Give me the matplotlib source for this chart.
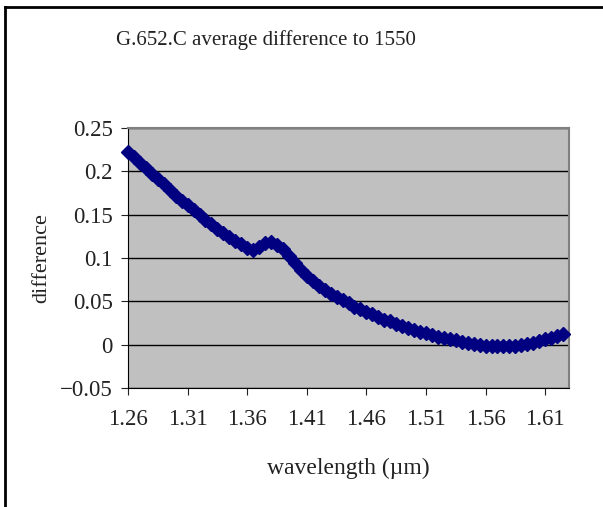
import matplotlib
matplotlib.use("Agg")
import matplotlib.pyplot as plt
from matplotlib.lines import Line2D
from matplotlib.ticker import FixedLocator, FuncFormatter

plt.rcParams['font.family'] = ['Liberation Serif', 'DejaVu Serif']
plt.rcParams['axes.unicode_minus'] = True

wavelength = [1.260 + 0.005 * i for i in range(74)]
difference = [
    0.222, 0.217, 0.210, 0.204, 0.197, 0.191, 0.185, 0.179, 0.172, 0.166,
    0.161, 0.155, 0.150, 0.144, 0.139, 0.134, 0.129, 0.124, 0.120, 0.116,
    0.112, 0.109, 0.113, 0.117, 0.119, 0.115, 0.110, 0.102, 0.094, 0.086,
    0.079, 0.073, 0.068, 0.063, 0.059, 0.055, 0.051, 0.048, 0.044, 0.041,
    0.038, 0.035, 0.032, 0.029, 0.027, 0.024, 0.021, 0.019, 0.017, 0.015,
    0.013, 0.011, 0.009, 0.008, 0.006, 0.005, 0.003, 0.002, 0.001, 0.000,
    -0.001, -0.001, -0.002, -0.002, -0.001, -0.001, 0.000, 0.001, 0.002, 0.004,
    0.006, 0.008, 0.010, 0.012,
]
x_ticks = [1.26, 1.31, 1.36, 1.41, 1.46, 1.51, 1.56, 1.61]
y_ticks = [-0.05, 0.0, 0.05, 0.10, 0.15, 0.20, 0.25]

fig = plt.figure(figsize=(6.03, 5.07), dpi=100)
ax = fig.add_axes([128/603, 1-388/507, (569-128)/603, (388-128)/507])
ax.set_facecolor('#C0C0C0')

for yv in y_ticks:
    ax.axhline(yv, color='black', lw=1.0, zorder=1)

ax.plot(wavelength, difference, color='#000080', lw=3.5, marker='D',
        markersize=7, markeredgecolor='#000080', zorder=3, clip_on=False)

ax.set_xlim(1.26, 1.63)
ax.set_ylim(-0.05, 0.25)
ax.xaxis.set_major_locator(FixedLocator(x_ticks))
ax.yaxis.set_major_locator(FixedLocator(y_ticks))

def yfmt(v, pos):
    if abs(v) < 1e-9:
        return '0'
    s = ('%.2f' % v).rstrip('0')
    return s.replace('-', '\u2212')
ax.yaxis.set_major_formatter(FuncFormatter(yfmt))
ax.xaxis.set_major_formatter(FuncFormatter(lambda v, p: '%.2f' % v))

ax.tick_params(axis='both', labelsize=16.5, colors='#222222', direction='out',
               length=5, width=0.8)
ax.tick_params(axis='x', pad=10)
ax.tick_params(axis='y', pad=6)

for side in ['top', 'right']:
    ax.spines[side].set_color('#808080')
    ax.spines[side].set_linewidth(1.5)
for side in ['left', 'bottom']:
    ax.spines[side].set_color('black')
    ax.spines[side].set_linewidth(0.8)

ax.set_xlabel('wavelength (\u00b5m)', fontsize=17, labelpad=20, color='#222222')
ax.set_ylabel('difference', fontsize=16, labelpad=6, color='#222222')
fig.text(266/603, 1-40/507, 'G.652.C average difference to 1550',
         fontsize=15, ha='center', va='center', color='#222222')

# chart-area border (left and top visible)
fig.add_artist(Line2D([5/603, 5/603], [0, 1-7/507], transform=fig.transFigure,
                      color='black', lw=2))
fig.add_artist(Line2D([5/603, 1], [1-7/507, 1-7/507], transform=fig.transFigure,
                      color='black', lw=2))

fig.savefig('out.png', dpi=100, facecolor='white')
